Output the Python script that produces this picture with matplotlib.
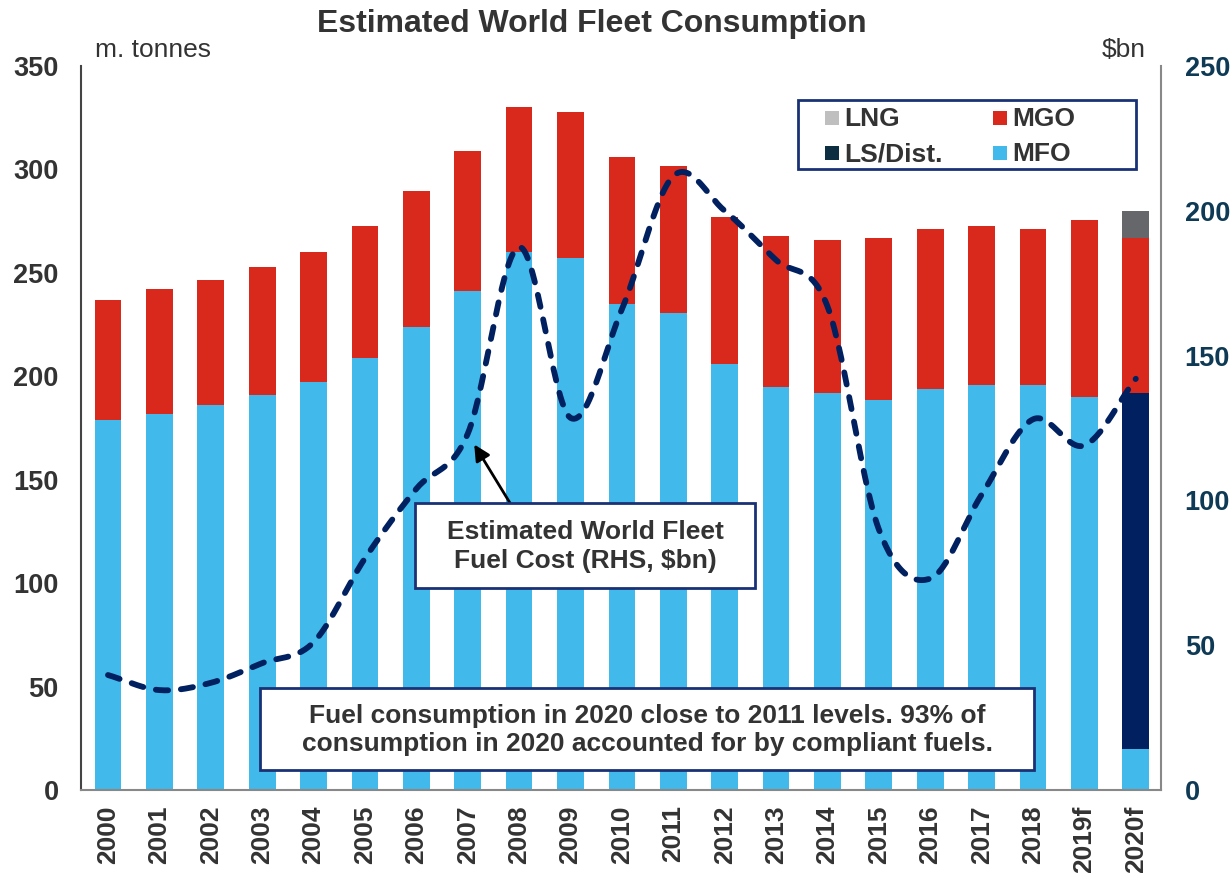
import numpy as np
import matplotlib
matplotlib.use("Agg")
import matplotlib.pyplot as plt
from matplotlib.patches import Rectangle

plt.rcParams['font.family'] = ['Liberation Sans', 'DejaVu Sans']

years = ['2000', '2001', '2002', '2003', '2004', '2005', '2006', '2007', '2008', '2009',
         '2010', '2011', '2012', '2013', '2014', '2015', '2016', '2017', '2018', '2019f', '2020f']
mfo = [179, 182, 186, 191, 197, 209, 224, 241, 260, 257,
       235, 230.5, 206, 195, 192, 188.5, 194, 196, 196, 190, 20]
ls_dist = [0, 0, 0, 0, 0, 0, 0, 0, 0, 0,
           0, 0, 0, 0, 0, 0, 0, 0, 0, 0, 172]
mgo = [58, 60, 60.5, 62, 63, 63.5, 65.5, 68, 70, 71,
       71, 71, 71, 73, 74, 78.5, 77, 76.5, 75, 85.5, 75]
lng = [0, 0, 0, 0, 0, 0, 0, 0, 0, 0,
       0, 0, 0, 0, 0, 0, 0, 0, 0, 0, 13]
fuel_cost = [39.7, 34.5, 37, 43.8, 51, 80, 104, 123, 187.5, 128.5,
             166, 212, 200, 183, 167, 90, 73, 102, 128, 119, 142]

legend_labels = ['LNG', 'MGO', 'LS/Dist.', 'MFO']

C_MFO = '#41b9eb'
C_MGO = '#d9291c'
C_LS = '#002060'
C_LNG = '#65676b'
C_TEXT = '#333333'
C_RHS = '#0e3a55'
C_FRAME = '#1a3275'

W, H = 1232, 873
fig = plt.figure(figsize=(W / 100, H / 100), dpi=100)


def fx(px):
    return px / W


def fy(py):
    return 1 - py / H


ax = fig.add_axes([fx(81), fy(790), fx(1161) - fx(81), fy(66) - fy(790)])
x = np.arange(len(years))
bw = 0.52

mfo_a = np.array(mfo)
ls_a = np.array(ls_dist)
mgo_a = np.array(mgo)
lng_a = np.array(lng)

ax.bar(x, mfo_a, bw, color=C_MFO, zorder=2)
ax.bar(x, ls_a, bw, bottom=mfo_a, color=C_LS, zorder=2)
ax.bar(x, mgo_a, bw, bottom=mfo_a + ls_a, color=C_MGO, zorder=2)
ax.bar(x, lng_a, bw, bottom=mfo_a + ls_a + mgo_a, color=C_LNG, zorder=2)

ax.set_xlim(-0.525, 20.49)
ax.set_ylim(0, 350)
ax.set_yticks(np.arange(0, 351, 50))
ax.set_xticks(x)
ax.set_xticklabels(years, rotation=90, fontsize=19, fontweight='bold', color=C_TEXT)
ax.tick_params(axis='x', length=0, pad=11)
ax.tick_params(axis='y', length=0, labelsize=19.5, labelcolor=C_TEXT, pad=16)
for lab in ax.get_yticklabels():
    lab.set_fontweight('bold')
ax.spines['top'].set_visible(False)
ax.spines['right'].set_visible(False)
ax.spines['left'].set_color('#444444')
ax.spines['left'].set_linewidth(1.5)
ax.spines['bottom'].set_color('#888888')
ax.spines['bottom'].set_linewidth(1.5)

# Right axis: fuel cost in $bn, drawn as a smoothed dashed curve
ax2 = ax.twinx()
ax2.set_ylim(0, 250)
ax2.set_yticks(np.arange(0, 251, 50))
ax2.tick_params(axis='y', length=0, labelsize=19.5, labelcolor=C_RHS, pad=17)
for lab in ax2.get_yticklabels():
    lab.set_fontweight('bold')
for s in ['top', 'left', 'bottom']:
    ax2.spines[s].set_visible(False)
ax2.spines['right'].set_color('#888888')
ax2.spines['right'].set_linewidth(1.5)


def smooth_curve(xs, ys, n=30):
    xs = np.asarray(xs, float)
    ys = np.asarray(ys, float)
    px = np.concatenate([[2 * xs[0] - xs[1]], xs, [2 * xs[-1] - xs[-2]]])
    py = np.concatenate([[2 * ys[0] - ys[1]], ys, [2 * ys[-1] - ys[-2]]])
    outx, outy = [], []
    for i in range(1, len(px) - 2):
        p0, p1, p2, p3 = (np.array([px[j], py[j]]) for j in range(i - 1, i + 3))
        b1 = p1 + (p2 - p0) / 6
        b2 = p2 - (p3 - p1) / 6
        t = np.linspace(0, 1, n, endpoint=False)[:, None]
        pts = ((1 - t) ** 3) * p1 + 3 * ((1 - t) ** 2) * t * b1 + 3 * (1 - t) * t ** 2 * b2 + t ** 3 * p2
        outx.extend(pts[:, 0])
        outy.extend(pts[:, 1])
    outx.append(xs[-1])
    outy.append(ys[-1])
    return np.array(outx), np.array(outy)


sx, sy = smooth_curve(x, fuel_cost)
ax2.plot(sx, sy, color=C_LS, lw=4.2, linestyle=(0, (2.1, 2.2)),
         dash_capstyle='round', zorder=3)


def text_box(x0, y0, x1, y1, text):
    fig.patches.append(Rectangle((fx(x0), fy(y1)), fx(x1) - fx(x0), fy(y0) - fy(y1),
                                 transform=fig.transFigure, fc='white', ec=C_FRAME,
                                 lw=2, zorder=8))
    fig.text(fx((x0 + x1) / 2), fy((y0 + y1) / 2 + 1), text, ha='center', va='center',
             fontsize=19, fontweight='bold', color=C_TEXT, linespacing=1.22, zorder=9)


# Callout for the fuel-cost curve
ax2.annotate('', xy=(7, fuel_cost[7]), xycoords='data',
             xytext=(fx(510), fy(503)), textcoords='figure fraction',
             arrowprops=dict(arrowstyle='-|>', color='black', lw=2,
                             mutation_scale=24, shrinkA=0, shrinkB=9),
             zorder=6)
text_box(415, 503, 755, 588, 'Estimated World Fleet\nFuel Cost (RHS, $bn)')
text_box(260, 688, 1034, 770,
         'Fuel consumption in 2020 close to 2011 levels. 93% of\n'
         'consumption in 2020 accounted for by compliant fuels.')

# Legend (two rows, two columns)
fig.patches.append(Rectangle((fx(798), fy(169)), fx(1136) - fx(798), fy(100) - fy(169),
                             transform=fig.transFigure, fc='white', ec=C_FRAME,
                             lw=2, zorder=8))
legend_colors = ['#bfbfbf', C_MGO, '#0d2d40', C_MFO]
cols_px = [825, 993]
rows_px = [118, 153]
for i, (lab, col) in enumerate(zip(legend_labels, legend_colors)):
    cx = cols_px[i % 2]
    cy = rows_px[i // 2]
    fig.patches.append(Rectangle((fx(cx), fy(cy + 7)), fx(14), fx(14) * W / H,
                                 transform=fig.transFigure, fc=col, ec='none', zorder=9))
    fig.text(fx(cx + 19), fy(cy + 1), lab, ha='left', va='center', fontsize=19,
             fontweight='bold', color=C_TEXT, zorder=9)

fig.text(fx(592), fy(24), 'Estimated World Fleet Consumption', ha='center', va='center',
         fontsize=23, fontweight='bold', color=C_TEXT)
fig.text(fx(95), fy(50), 'm. tonnes', ha='left', va='center', fontsize=19, color=C_TEXT)
fig.text(fx(1146), fy(50), '$bn', ha='right', va='center', fontsize=19, color=C_TEXT)

fig.savefig('out.png', dpi=100)
